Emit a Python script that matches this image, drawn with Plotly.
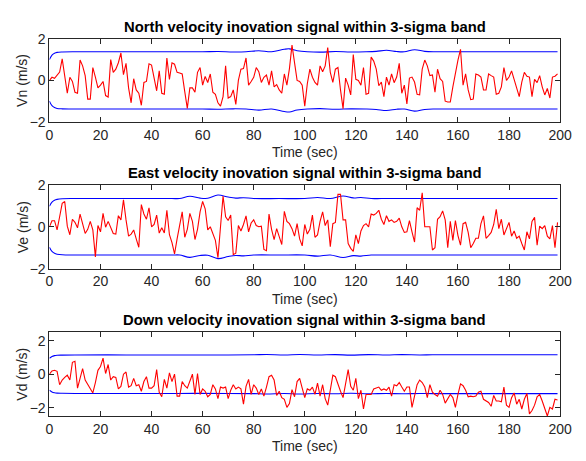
import plotly.graph_objects as go

# Time axis (seconds)
time_s = list(range(200))

# Velocity innovation signals (m/s)
north_innov = [
    0.00, 0.15, 0.10, 0.25, 0.40, 1.04, 0.20, -0.62, 0.15, -0.05,
    -0.57, -0.62, 0.98, 0.70, 0.23, -0.90, -0.90, 0.62, 0.16, -0.36,
    -0.23, -0.05, -0.73, -0.80, 1.00, 0.39, 0.54, 0.85, 1.32, 0.28,
    0.82, -0.36, -1.08, 0.08, -0.46, -0.62, -1.20, -0.10, -0.05, 0.80,
    0.74, 0.08, -0.50, 0.46, -0.62, -0.67, 1.08, 0.05, 0.85, 0.78,
    0.39, 0.36, 0.31, -0.54, -1.35, -0.36, -0.36, -0.57, 0.39, 0.62,
    -0.23, 0.19, -0.10, 0.31, -0.57, -0.67, -1.08, -1.24, -0.78, 0.70,
    -0.85, -0.78, -0.46, -1.16, 0.00, 0.54, 0.57, 1.08, -0.23, -0.05,
    0.15, 0.62, 0.42, -0.10, 0.15, 0.26, -0.23, 0.46, -0.31, -0.20,
    -0.46, -0.62, 0.31, -0.23, 0.57, 1.70, 0.85, 0.00, -0.05, -0.23,
    -1.24, -0.16, 0.54, 0.15, -0.10, -0.23, 0.70, 0.42, 0.70, 1.58,
    0.39, -0.10, 0.54, 0.62, -0.46, -1.36, 0.11, -0.23, -0.70, 1.24,
    0.05, 0.00, -0.23, 0.62, -0.67, -0.62, 1.12, 0.93, 0.54, -0.26,
    -0.08, -0.78, 0.16, -0.23, 0.31, -0.11, 0.16, 0.82, -0.62, -0.23,
    -1.13, 0.11, 0.16, -0.08, -0.67, -0.70, 0.54, 0.98, 0.70, 0.23,
    0.26, -0.57, 0.54, 0.08, -0.05, -1.00, -1.04, -1.04, -0.31, 0.39,
    0.98, 1.50, -0.23, 0.31, -0.46, -0.93, -0.90, 0.31, 0.26, 0.16,
    -0.46, -0.46, 0.31, 0.23, 0.16, -0.67, -0.62, -0.31, 0.62, 0.00,
    0.16, 0.46, 0.00, -0.39, -0.78, -0.08, 0.39, 0.20, 0.16, -0.78,
    0.05, -0.11, 0.23, -0.31, -0.70, -0.39, -0.85, 0.16, 0.20, 0.31,
]

east_innov = [
    0.00, 0.29, 0.29, -0.15, 0.48, 1.12, 1.21, 0.03, -0.38, 0.36,
    0.21, -0.05, 0.61, 0.11, -0.32, -0.12, 0.26, -0.15, -1.44, 0.06,
    -0.24, 0.64, -0.02, 0.26, -0.08, -0.32, -0.35, 0.53, 0.33, 1.29,
    0.33, -0.45, -0.35, -0.15, -0.58, -0.98, 1.06, 0.61, 0.36, 0.91,
    0.00, 0.11, 0.56, -0.30, -0.05, -0.30, 0.79, -0.38, -0.76, -1.30,
    -0.58, 0.06, 0.71, -0.50, -0.12, 0.64, 0.26, -0.61, -0.12, 0.71,
    1.21, 0.86, -0.15, 0.00, -0.35, -0.65, -1.48, 0.00, 1.47, 0.48,
    0.30, 0.56, -1.33, -1.26, 0.06, -0.20, 0.11, 0.52, -0.24, 0.18,
    0.33, 0.06, 0.00, 0.03, -1.08, -1.14, 0.61, -0.12, -0.61, -0.09,
    -0.45, -0.85, 0.74, 0.26, 0.15, -0.09, -0.45, 0.15, -0.58, -0.91,
    0.11, -0.35, -0.12, 0.56, -0.50, -0.39, 0.26, 0.71, 0.06, 0.33,
    -0.95, 0.15, 0.21, 1.55, 1.55, 0.33, 0.33, -0.80, -1.03, -1.18,
    -0.39, -0.80, -0.20, 0.06, 0.15, 0.00, 0.61, 0.56, 0.64, 0.79,
    0.36, 0.11, 0.53, 0.26, 0.33, 0.21, 0.26, 0.41, 0.00, -0.27,
    -0.24, 0.30, -0.24, -0.73, 0.91, 0.79, 1.62, 0.00, 0.00, 0.00,
    -1.11, -1.00, 0.36, 0.48, 0.76, 0.33, -1.00, 0.26, -0.65, 0.30,
    -0.42, -0.88, 0.15, 0.21, -0.27, -1.00, -0.80, -0.55, -0.55, 0.15,
    0.52, -0.55, -0.42, -0.27, 0.11, 0.83, -0.09, 0.36, -0.39, -0.05,
    0.21, -0.45, -0.20, -0.55, -0.45, -0.80, -1.11, -0.24, -0.58, 0.26,
    0.45, -0.88, 0.03, -0.09, 0.06, -0.45, -0.58, 0.06, -1.00, 0.21,
]

down_innov = [
    0.00, 0.19, 0.23, 0.17, -0.63, -0.35, -0.19, -0.06, -0.35, 0.71,
    0.77, -0.83, -0.25, 0.33, -0.35, -0.63, -0.88, -1.12, -0.50, 0.23,
    0.46, 0.96, 0.04, 0.58, -0.35, -0.15, -0.19, -0.88, -0.73, 0.00,
    0.13, -0.77, -0.69, -0.25, -0.69, -0.63, -1.02, -0.44, -0.15, -0.83,
    -0.83, -0.69, 0.27, -1.08, -1.35, -0.31, -0.83, 0.08, -0.44, 0.00,
    -1.31, -1.31, -0.44, -0.69, -0.83, -0.35, 0.00, -1.21, 0.04, -1.21,
    -0.88, -1.02, -1.35, -1.21, -0.63, -0.88, -1.46, -0.77, -0.83, -0.77,
    -1.46, -0.96, -0.63, -0.88, -0.77, -0.88, -1.79, -0.73, -0.31, -1.21,
    -0.63, -0.83, -1.21, -0.88, -1.31, -0.77, -0.15, -0.06, -0.35, -1.27,
    -1.02, -1.40, -1.50, -1.98, -1.75, -0.92, -1.35, -0.44, -0.25, -0.83,
    -1.40, -0.88, -0.96, -0.77, -1.21, -0.54, -1.31, -0.63, -1.46, -1.85,
    -0.92, -0.06, -0.15, -0.63, -1.02, -1.40, -0.44, 0.27, -0.73, -0.96,
    -0.25, -1.46, -0.96, -2.08, -1.21, -1.21, -1.21, -0.88, -0.83, -0.77,
    -0.96, -0.88, -0.96, -0.77, -1.31, -0.63, -0.69, -0.50, -0.77, -1.02,
    -0.77, -0.77, -1.98, -1.21, -0.63, -0.35, -0.50, -0.77, -1.40, -0.63,
    -1.08, -1.21, -1.31, -0.96, -1.21, -1.73, -1.46, -1.21, -1.40, -1.98,
    -1.21, -0.58, -0.69, -0.96, -1.35, -1.31, -1.35, -1.31, -1.08, -1.02,
    -1.50, -1.60, -1.69, -1.92, -1.27, -1.60, -1.60, -1.65, -0.77, -1.85,
    -1.98, -1.40, -1.12, -1.79, -1.50, -2.08, -1.50, -1.15, -2.37, -2.17,
    -1.85, -1.35, -1.21, -1.60, -2.08, -2.50, -1.98, -2.08, -1.50, -1.54,
]

# 3-sigma envelope samples (m/s), plotted as +/- bounds
north_band_t = [0, 1, 2, 3, 5, 10, 30, 50, 60, 66, 72, 77, 82, 87, 92, 94, 97, 101,
                106, 112, 118, 124, 128, 132, 136, 139, 143, 147, 151, 160, 180, 199]
north_sigma3 = [1.00, 1.22, 1.31, 1.35, 1.37, 1.38, 1.38, 1.38, 1.38, 1.39, 1.37, 1.38,
                1.43, 1.38, 1.50, 1.52, 1.43, 1.38, 1.36, 1.39, 1.37, 1.38, 1.40, 1.45,
                1.39, 1.38, 1.48, 1.40, 1.38, 1.38, 1.38, 1.38]

east_band_t = [0, 1, 2, 3, 5, 10, 30, 48, 51, 55, 59, 62, 66, 70, 73, 76, 80, 90,
               100, 105, 110, 115, 119, 122, 126, 130, 140, 160, 180, 199]
east_sigma3 = [0.98, 1.18, 1.27, 1.31, 1.34, 1.35, 1.35, 1.35, 1.35, 1.46, 1.37, 1.36,
               1.52, 1.42, 1.37, 1.39, 1.35, 1.35, 1.35, 1.40, 1.35, 1.47, 1.38, 1.40,
               1.35, 1.35, 1.35, 1.35, 1.35, 1.35]

down_band_t = [0, 1, 2, 3, 5, 10, 30, 50, 70, 80, 85, 92, 98, 105, 112, 118, 125,
               132, 138, 145, 150, 160, 180, 199]
down_sigma3 = [0.95, 1.06, 1.11, 1.13, 1.14, 1.15, 1.15, 1.15, 1.15, 1.16, 1.18, 1.15,
               1.18, 1.15, 1.17, 1.14, 1.17, 1.15, 1.17, 1.15, 1.16, 1.16, 1.16, 1.16]

panels = [
    ("North velocity inovation signal within 3-sigma band", "Vn (m/s)",
     north_innov, north_band_t, north_sigma3, [-2, 2], [-2, 0, 2]),
    ("East velocity inovation signal within 3-sigma band", "Ve (m/s)",
     east_innov, east_band_t, east_sigma3, [-2, 2], [-2, 0, 2]),
    ("Down velocity inovation signal within 3-sigma band", "Vd (m/s)",
     down_innov, down_band_t, down_sigma3, [-2.5, 2.5], [-2, 0, 2]),
]

W, H = 586, 461
x_left, x_right = 46.7, 571.7
# (top, bottom) pixel rows of each axes box
boxes = [(32.0, 118.0), (183.3, 270.0), (336.0, 422.7)]

FONT = "Liberation Sans, Arial, Helvetica, sans-serif"
AX = "#262626"

fig = go.Figure()
layout = dict(
    width=W, height=H,
    margin=dict(l=0, r=0, t=0, b=0),
    paper_bgcolor="white", plot_bgcolor="white",
    showlegend=False,
    font=dict(family=FONT, size=14, color=AX),
    annotations=[],
)

for i, (title, ylab, sig, bt, s3, yr, yt) in enumerate(panels):
    n = i + 1
    xa = "x" if n == 1 else f"x{n}"
    ya = "y" if n == 1 else f"y{n}"
    top, bot = boxes[i]

    fig.add_trace(go.Scatter(x=bt, y=s3, mode="lines", xaxis=xa, yaxis=ya,
                             line=dict(color="#0000ff", width=1.1, shape="spline")))
    fig.add_trace(go.Scatter(x=bt, y=[-v for v in s3], mode="lines", xaxis=xa, yaxis=ya,
                             line=dict(color="#0000ff", width=1.1, shape="spline")))
    fig.add_trace(go.Scatter(x=time_s, y=sig, mode="lines", xaxis=xa, yaxis=ya,
                             line=dict(color="#ff0000", width=1.1)))

    xkey = "xaxis" if n == 1 else f"xaxis{n}"
    ykey = "yaxis" if n == 1 else f"yaxis{n}"
    layout[xkey] = dict(
        domain=[x_left / W, x_right / W], anchor=ya, range=[0, 200],
        tickvals=list(range(0, 201, 20)), ticks="inside", ticklen=5, tickwidth=1,
        tickcolor=AX, showline=True, linecolor=AX, linewidth=1, mirror="ticks",
        showgrid=False, zeroline=False, tickfont=dict(size=14, color=AX, family=FONT),
    )
    layout[ykey] = dict(
        domain=[1 - bot / H, 1 - top / H], anchor=xa, range=yr,
        tickvals=yt, ticks="inside", ticklen=5, tickwidth=1,
        tickcolor=AX, showline=True, linecolor=AX, linewidth=1, mirror="ticks",
        showgrid=False, zeroline=False, tickfont=dict(size=14, color=AX, family=FONT),
    )

    xc = (x_left + x_right) / 2 / W
    layout["annotations"].append(dict(
        text=f"<b>{title}</b>", x=xc, y=1 - (top - 12.5) / H, xref="paper", yref="paper",
        showarrow=False, xanchor="center", yanchor="middle",
        font=dict(size=14.8, color="black", family=FONT)))
    layout["annotations"].append(dict(
        text="Time (sec)", x=xc, y=1 - (bot + 31.5) / H, xref="paper", yref="paper",
        showarrow=False, xanchor="center", yanchor="middle",
        font=dict(size=14, color=AX, family=FONT)))
    layout["annotations"].append(dict(
        text=ylab, x=19 / W, y=1 - (top + bot) / 2 / H, xref="paper", yref="paper",
        showarrow=False, xanchor="center", yanchor="middle", textangle=-90,
        font=dict(size=14, color=AX, family=FONT)))

fig.update_layout(**layout)
fig.write_html("out.html")
